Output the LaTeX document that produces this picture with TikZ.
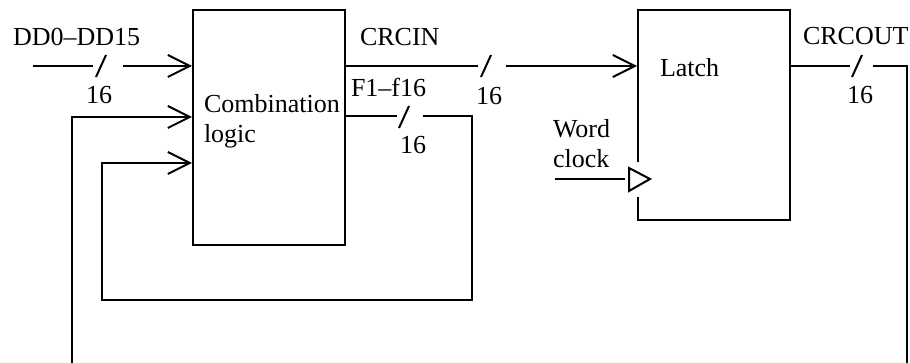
\documentclass[tikz,border=0pt]{standalone}
\usepackage{fontspec}
\setmainfont{Liberation Serif}
\usetikzlibrary{arrows.meta}
\begin{document}
\begin{tikzpicture}[x=0.5pt,y=-0.5pt, line width=1pt,
  lbl/.style={inner sep=0pt, anchor=base west, font=\fontsize{13}{15}\selectfont},
  num/.style={inner sep=0pt, anchor=base, font=\fontsize{13}{15}\selectfont},
  blk/.style={draw, line width=1pt, minimum width=76pt, inner sep=0pt, anchor=north west},
  arr/.style={-{Straight Barb[length=11pt,width=11pt,line width=1pt]}},
  slashmark/.style={line width=1pt}]
\clip (0,0) rectangle (910,363);
% blocks
\node[blk, minimum height=117.5pt] (comb) at (192,9) {};
\node[blk, minimum height=105pt] (latch) at (637,9) {};
% helper levels
\coordinate (y66) at (0,66);
\coordinate (y116) at (0,116);
\coordinate (y117) at (0,117);
\coordinate (y163) at (0,163);
% labels
\node[lbl] (ddlbl) at (12,46) {DD0–DD15};
\node[num] (n1) at (99,104) {16};
\node[lbl] (crcin) at (359,46) {CRCIN};
\node[num] (n2) at (489,105) {16};
\node[lbl] (flbl) at (350,97) {F1–f16};
\node[num] (n3) at (413,154) {16};
\node[lbl] (word) at (552,138) {Word};
\node[lbl] (clock) at (552,168) {clock};
\node[lbl] (latchlbl) at (659,77) {Latch};
\node[lbl] (crcout) at (802,45) {CRCOUT};
\node[num] (n4) at (860,104) {16};
\node[lbl] (comb1) at (203,113) {Combination};
\node[lbl] (comb2) at (203,143) {logic};
% input DD0-DD15
\coordinate (ddin) at (33,66);
\coordinate (dda) at (93,66);
\coordinate (ddb) at (123,66);
\draw (ddin) -- (dda);
\draw[slashmark] (96,77) -- (106,55);
\draw[arr] (ddb) -- (comb.west |- ddb);
% CRCIN
\coordinate (cra) at (478,66);
\coordinate (crb) at (506,66);
\draw (comb.east |- y66) -- (cra);
\draw[slashmark] (481,77) -- (491,55);
\draw[arr] (crb) -- (latch.west |- y66);
% F1-f16 feedback
\coordinate (fa) at (397,116);
\coordinate (fb) at (423,116);
\coordinate (fr) at (472,300);
\coordinate (fl) at (102,163);
\draw (comb.east |- y116) -- (fa);
\draw[slashmark] (399,128) -- (409,106);
\draw[arr] (fb) -| (fr) -| (fl) -- (comb.west |- y163);
% CRCOUT loop
\coordinate (oa) at (850,66);
\coordinate (ob) at (873,66);
\coordinate (or) at (907,372);
\coordinate (ol) at (72,117);
\draw (latch.east |- y66) -- (oa);
\draw[slashmark] (852,77) -- (862,55);
\draw[arr] (ob) -| (or) -| (ol) -- (comb.west |- y117);
% clock input
\coordinate (clkin) at (555,179);
\coordinate (clkend) at (625,179);
\draw (clkin) -- (clkend);
\fill[white] (632,162) rectangle (642,197);
\draw (629,168) -- (650,179) -- (629,191) -- cycle;
\end{tikzpicture}
\end{document}
